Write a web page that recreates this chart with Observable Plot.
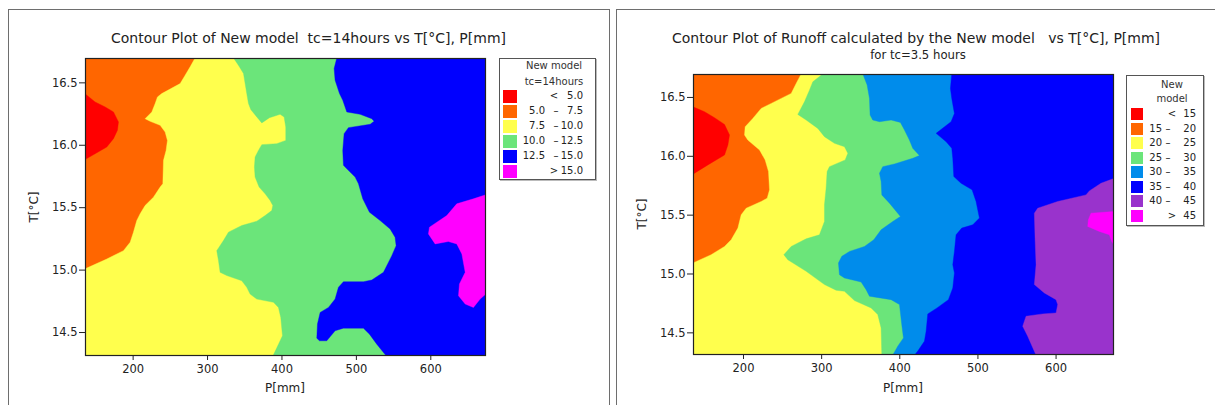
<!DOCTYPE html>
<html><head><meta charset="utf-8">
<script src="https://cdn.jsdelivr.net/npm/d3@7"></script>
<script src="https://cdn.jsdelivr.net/npm/@observablehq/plot@0.6"></script>
<style>
body{margin:0;background:#fff;font-family:"DejaVu Sans",sans-serif;color:#222}
#root{position:relative;width:1215px;height:405px;overflow:hidden;background:#fff}
.frame{position:absolute;border:1px solid #6e6e6e;box-sizing:border-box}
.t{position:absolute;white-space:pre;line-height:1;color:#222}
.leg{position:absolute;border:1px solid #555;box-sizing:border-box;background:#fff;box-shadow:1px 1px 0 #bbb}
.sw{position:absolute}
</style></head><body><div id="root"></div>
<script>
// ---------- shared axes ----------
const xTicks = [200, 300, 400, 500, 600];
const yTicks = [14.5, 15.0, 15.5, 16.0, 16.5];
const pDomain = [136, 673.5];
const tDomain = [14.316, 16.695];

// ---------- panel 1: New model tc=14hours ----------
const p1Title = "Contour Plot of New model  tc=14hours vs T[°C], P[mm]";
const p1LegendTitle = ["New model", "tc=14hours"];
const p1Breaks = [5.0, 7.5, 10.0, 12.5, 15.0];
const p1Colors = ["#FF0000", "#FF6600", "#FFFF4D", "#6BE57A", "#0000FF", "#FF00FF"];
// boundaries as [T, P]
const p1Red = [[16.414,135],[16.347,148.9],[16.307,162.4],[16.267,173.6],[16.187,180.3],[16.120,178.9],[16.053,173.6],[15.986,164.6],[15.932,148.9],[15.884,135]];
const p1Yellow = [[16.70,283.3],[16.628,276.6],[16.561,269.9],[16.494,263.2],[16.414,238.5],[16.387,232.7],[16.334,229.6],[16.267,225.1],[16.213,216.1],[16.192,222.8],[16.160,236.3],[16.106,243.0],[16.039,246.1],[15.959,244.3],[15.879,240.8],[15.692,239.9],[15.665,236.3],[15.584,227.3],[15.518,216.1],[15.451,209.4],[15.397,204.9],[15.303,200.4],[15.223,196.0],[15.156,187.0],[15.089,164.6],[15.009,135],[14.31,135]];
const p1Green = [[16.70,334.8],[16.641,341.5],[16.575,348.3],[16.494,350.5],[16.414,352.7],[16.334,355.0],[16.286,358.1],[16.227,366.2],[16.179,372.9],[16.221,383.2],[16.248,397.5],[16.227,402.9],[16.146,405.1],[16.039,405.1],[16.013,393.0],[16.005,372.9],[15.959,368.4],[15.906,363.9],[15.825,363.0],[15.745,363.9],[15.665,369.3],[15.611,377.4],[15.558,384.1],[15.518,387.7],[15.477,386.3],[15.437,377.4],[15.392,366.2],[15.357,346.0],[15.304,328.1],[15.237,321.4],[15.156,312.4],[15.076,314.7],[14.982,316.9],[14.956,325.9],[14.915,346.0],[14.862,352.7],[14.808,357.2],[14.768,366.2],[14.742,388.6],[14.701,395.3],[14.621,398.4],[14.474,400.7],[14.31,387.7]];
const p1Blue = [[16.70,473.7],[16.615,470.1],[16.521,471.4],[16.414,477.3],[16.360,481.7],[16.267,487.1],[16.248,505.0],[16.213,520.7],[16.192,523.8],[16.168,518.5],[16.141,489.3],[16.093,483.5],[15.959,481.7],[15.839,482.6],[15.812,487.1],[15.745,498.3],[15.692,502.8],[15.571,508.6],[15.464,517.6],[15.397,531.9],[15.330,545.3],[15.263,552.0],[15.196,553.4],[15.116,547.6],[14.982,536.4],[14.921,520.7],[14.907,509.5],[14.907,482.6],[14.862,475.9],[14.768,471.4],[14.701,462.5],[14.661,451.3],[14.568,447.7],[14.455,446.8],[14.434,450.4],[14.434,460.2],[14.514,471.4],[14.535,482.6],[14.535,509.5],[14.487,517.6],[14.407,527.4],[14.31,540.5]];
const p1Magenta = [[15.606,675],[15.571,657.3],[15.531,634.9],[15.437,621.5],[15.344,598.2],[15.290,596.8],[15.210,605.8],[15.229,623.6],[15.210,634.9],[15.130,641.7],[14.982,646.2],[14.889,638.5],[14.795,637.2],[14.728,646.2],[14.701,657.3],[14.768,666.3],[14.814,675]];

// ---------- panel 2: Runoff, tc=3.5 hours ----------
const p2Title = "Contour Plot of Runoff calculated by the New model   vs T[°C], P[mm]";
const p2Subtitle = "for tc=3.5 hours";
const p2LegendTitle = ["New", "model"];
const p2Breaks = [15, 20, 25, 30, 35, 40, 45];
const p2Colors = ["#FF0000", "#FF6600", "#FFFF4D", "#6BE57A", "#008CEB", "#0000FF", "#9933CC", "#FF00FF"];
const p2Red = [[16.421,135],[16.379,150.1],[16.328,162.9],[16.271,175.7],[16.181,182.1],[16.096,180.0],[16.011,175.7],[15.969,165.0],[15.927,154.4],[15.847,135]];
const p2Yellow = [[16.70,273.8],[16.619,267.4],[16.534,261.0],[16.492,248.2],[16.449,235.4],[16.407,222.6],[16.322,211.9],[16.251,202.1],[16.181,201.3],[16.138,205.5],[16.054,220.5],[15.969,227.7],[15.870,232.0],[15.715,233.3],[15.644,230.3],[15.616,222.6],[15.559,203.4],[15.503,197.0],[15.390,192.8],[15.291,184.2],[15.234,175.7],[15.164,158.6],[15.093,135],[14.31,135]];
const p2Green = [[16.70,301.5],[16.633,288.7],[16.562,284.4],[16.463,278.0],[16.356,269.5],[16.308,280.2],[16.237,295.1],[16.167,303.6],[16.110,316.4],[16.082,329.2],[16.025,333.5],[15.969,330.1],[15.912,310.0],[15.870,307.0],[15.729,305.7],[15.588,303.6],[15.446,303.6],[15.333,297.2],[15.299,280.2],[15.234,261.0],[15.164,251.6],[15.121,256.7],[15.023,280.2],[14.910,303.6],[14.862,318.5],[14.853,329.2],[14.774,342.0],[14.712,363.3],[14.655,371.8],[14.542,376.1],[14.31,377.0]];
const p2LightBlue = [[16.70,352.7],[16.605,358.2],[16.492,361.2],[16.350,362.0],[16.308,365.4],[16.294,374.0],[16.308,388.9],[16.288,400.8],[16.223,406.0],[16.138,412.3],[16.068,416.6],[16.006,425.1],[15.983,416.6],[15.935,393.2],[15.912,378.2],[15.856,374.0],[15.785,376.1],[15.672,377.0],[15.602,386.8],[15.489,400.8],[15.446,391.0],[15.376,376.1],[15.291,366.7],[15.234,354.8],[15.192,335.6],[15.150,325.8],[15.093,321.5],[14.994,322.8],[14.966,329.2],[14.932,350.5],[14.867,356.9],[14.811,361.2],[14.782,388.9],[14.740,399.6],[14.571,402.5],[14.457,404.7],[14.387,397.4],[14.31,391.0]];
const p2Blue = [[16.70,466.5],[16.576,464.8],[16.492,466.5],[16.364,469.9],[16.294,465.6],[16.195,446.5],[16.124,459.3],[16.068,466.5],[15.983,467.8],[15.828,469.1],[15.771,478.4],[15.715,492.5],[15.616,497.6],[15.475,501.9],[15.418,493.4],[15.390,479.3],[15.333,472.0],[15.192,469.9],[15.079,467.8],[15.008,469.9],[14.881,467.8],[14.782,462.2],[14.712,447.7],[14.661,435.8],[14.514,433.7],[14.429,431.5],[14.345,423.0],[14.31,418.7]];
const p2Purple = [[15.814,675],[15.771,657.5],[15.706,642.6],[15.672,638.3],[15.616,602.1],[15.559,576.5],[15.517,572.2],[15.305,573.1],[15.079,574.4],[14.910,572.2],[14.839,585.0],[14.782,600.0],[14.740,602.1],[14.669,600.0],[14.661,582.9],[14.641,561.6],[14.556,557.3],[14.472,563.7],[14.31,574.4]];
const p2Magenta = [[15.531,675],[15.517,644.7],[15.460,641.3],[15.404,640.5],[15.362,655.4],[15.333,668.2],[15.277,671.2],[15.234,675]];

// ---------- helpers ----------
const root = document.getElementById("root");
const FONT = '"DejaVu Sans", sans-serif';
const PBIG = 720;

function box(cls, l, t, w, h) {
  const d = document.createElement("div");
  d.className = cls;
  Object.assign(d.style, {left: l + "px", top: t + "px", width: w + "px", height: h + "px"});
  root.appendChild(d);
  return d;
}
function txt(x, y, s, o = {}) {
  const d = document.createElement("div");
  d.className = "t";
  d.textContent = s;
  d.style.left = x + "px";
  d.style.top = y + "px";
  d.style.fontSize = (o.size || 12) + "px";
  if (o.color) d.style.color = o.color;
  const ax = o.anchor === "end" ? "-100%" : o.anchor === "start" ? "0%" : "-50%";
  d.style.transform = `translate(${ax},-50%)` + (o.rotate ? ` rotate(${o.rotate}deg)` : "");
  root.appendChild(d);
  return d;
}

function region(pts, color, close) {
  let data = pts.map(([T, P]) => ({T, P}));
  if (close) {
    data = data.concat([{T: pts[pts.length - 1][0], P: PBIG}, {T: pts[0][0], P: PBIG}]);
  }
  return Plot.line(data, {x: "P", y: "T", fill: color, stroke: color, strokeWidth: 0.4, curve: "linear", clip: true});
}

function panel(layers, bg, geom) {
  const marks = [Plot.frame({fill: bg, stroke: "none"})];
  for (const L of layers) marks.push(region(L[0], L[1], L[2]));
  marks.push(Plot.frame({stroke: "#222", strokeWidth: 1.2}));
  const svg = Plot.plot({
    width: geom.w, height: geom.h,
    marginLeft: geom.ml, marginRight: geom.mr, marginTop: geom.mt, marginBottom: geom.mb,
    x: {domain: pDomain, ticks: xTicks, tickSize: 5, tickPadding: 4, label: null, tickFormat: d3.format("d")},
    y: {domain: tDomain, ticks: yTicks, tickSize: 6, tickPadding: 2, label: null, tickFormat: d3.format(".1f")},
    style: {background: "transparent", fontSize: "11.5px", fontFamily: FONT, color: "#222", overflow: "visible"},
    marks
  });
  svg.style.position = "absolute";
  svg.style.left = geom.left + "px";
  svg.style.top = "0px";
  svg.style.maxWidth = "none";
  root.appendChild(svg);
}

function legend(l, t, w, h, titleLines, titleX, titleY0, titleStep, breaks, colors, fmt, g) {
  box("leg", l, t, w, h);
  titleLines.forEach((s, i) => txt(titleX, titleY0 + i * titleStep, s, {size: 10, color: "#333"}));
  const n = colors.length;
  for (let i = 0; i < n; i++) {
    const y = g.row0 + i * g.step;
    const s = box("sw", g.swX, y - g.swH / 2, g.swW, g.swH);
    s.style.background = colors[i];
    if (i === 0) {
      txt(g.symX, y, "<", {size: 10});
      txt(g.hiX, y, fmt(breaks[0]), {size: 10, anchor: "end"});
    } else if (i === n - 1) {
      txt(g.symX, y, ">", {size: 10});
      txt(g.hiX, y, fmt(breaks[n - 2]), {size: 10, anchor: "end"});
    } else {
      txt(g.loX, y, fmt(breaks[i - 1]), {size: 10, anchor: "end"});
      txt(g.dashX, y, "–", {size: 10});
      txt(g.hiX, y, fmt(breaks[i]), {size: 10, anchor: "end"});
    }
  }
}

// ---------- panel frames ----------
box("frame", 8, 9, 602, 420);
box("frame", 616, 9, 620, 420);

// ---------- panel 1 ----------
panel([
  [p1Red, p1Colors[0], false],
  [p1Yellow, p1Colors[2], true],
  [p1Green, p1Colors[3], true],
  [p1Blue, p1Colors[4], true],
  [p1Magenta, p1Colors[5], false]
], p1Colors[1], {left: 0, w: 610, h: 405, ml: 85, mr: 125, mt: 58, mb: 50});

txt(308.5, 38, p1Title, {size: 14});
txt(285, 388, "P[mm]", {size: 12});
txt(34, 207, "T[°C]", {size: 12, rotate: -90});
legend(499, 58, 97, 122, p1LegendTitle, 554, 66, 16, p1Breaks, p1Colors, d3.format(".1f"),
  {row0: 96, step: 15, swX: 503, swW: 14, swH: 13, symX: 554, loX: 545, dashX: 556, hiX: 583});

// ---------- panel 2 ----------
panel([
  [p2Red, p2Colors[0], false],
  [p2Yellow, p2Colors[2], true],
  [p2Green, p2Colors[3], true],
  [p2LightBlue, p2Colors[4], true],
  [p2Blue, p2Colors[5], true],
  [p2Purple, p2Colors[6], true],
  [p2Magenta, p2Colors[7], false]
], p2Colors[1], {left: 610, w: 605, h: 405, ml: 83, mr: 102, mt: 74, mb: 51});

txt(916, 38, p2Title, {size: 14});
txt(918, 56, p2Subtitle, {size: 11.7});
txt(903, 388, "P[mm]", {size: 12});
txt(642, 214, "T[°C]", {size: 12, rotate: -90});
legend(1126, 75, 78, 151, p2LegendTitle, 1172, 85, 14, p2Breaks, p2Colors, d3.format("d"),
  {row0: 114, step: 14.5, swX: 1131, swW: 12, swH: 12, symX: 1172, loX: 1162, dashX: 1168, hiX: 1196});
</script>
</body></html>
